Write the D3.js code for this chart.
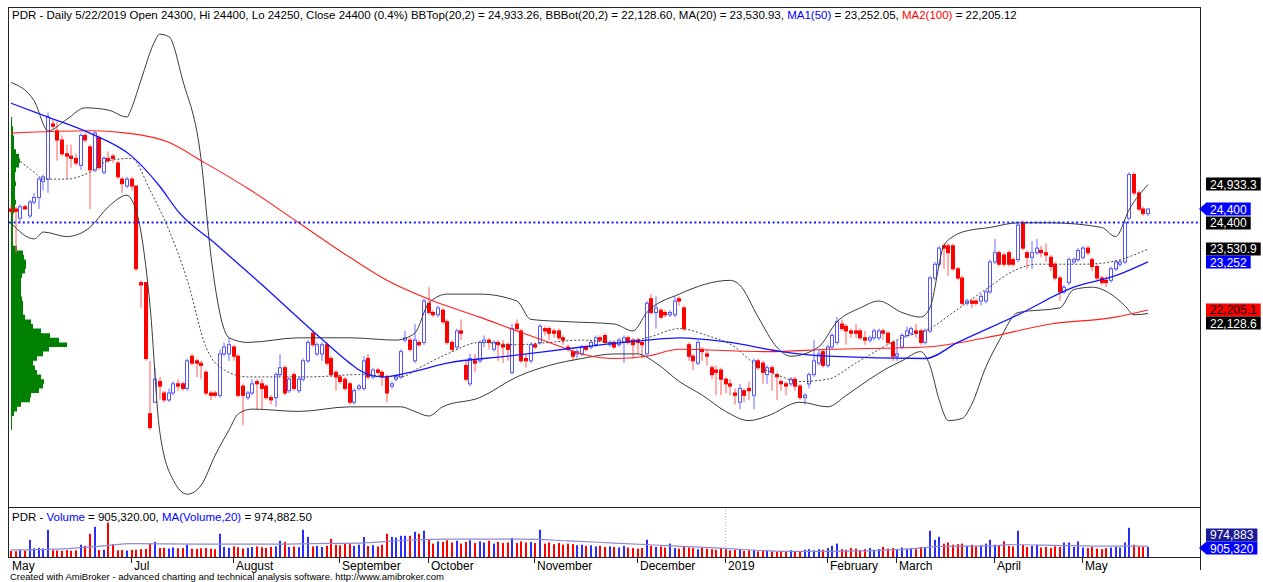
<!DOCTYPE html>
<html>
<head>
<meta charset="utf-8">
<script src="https://cdn.jsdelivr.net/npm/d3@7"></script>
<style>
  body { margin: 0; background: #fff; }
  svg text { font-family: "Liberation Sans", Arial, sans-serif; }
</style>
</head>
<body>
<script>
//DATA (PDR daily, late May 2018 - 22 May 2019)
const opens = [
  24400, 24400, 24200, 24450, 24250, 24550, 24650, 25000, 25050, 26250,
  26100, 25900, 25600, 25550, 25500, 25350, 26000, 25750, 25250, 25950,
  25200, 25500, 25550, 25400, 25050, 24900, 25050, 24900, 22800, 22800,
  19950, 20200, 20650, 20400, 20250, 20400, 20600, 20600, 20500, 21200,
  21100, 21050, 20850, 20400, 20400, 20350, 21250, 21250, 21400, 21200,
  20550, 20300, 20400, 20650, 20600, 20550, 20300, 20300, 20800, 20950,
  20450, 20800, 20450, 20700, 21100, 21700, 21250, 21250, 21450, 21150,
  20850, 20750, 20700, 20600, 20200, 20500, 20500, 21150, 20750, 20900,
  20850, 20750, 20550, 20700, 20750, 21550, 21550, 21100, 21500, 21500,
  22350, 22150, 22100, 22200, 21950, 21500, 21400, 21750, 21000, 20600,
  21100, 21100, 21500, 21550, 21350, 21500, 21450, 21450, 20850, 21900,
  21750, 21150, 21100, 21450, 21500, 21800, 21800, 21750, 21750, 21600,
  21400, 21300, 21250, 21250, 21400, 21400, 21450, 21600, 21650, 21450,
  21500, 21450, 21500, 21600, 21550, 21550, 21500, 21250, 22450, 22150,
  22200, 22150, 22100, 22100, 22450, 22250, 21450, 21200, 21050, 21350,
  21250, 20950, 20900, 20900, 20700, 20600, 20400, 20200, 20450, 20500,
  20350, 21100, 21050, 20800, 20950, 20800, 20650, 20600, 20600, 20700,
  20550, 20300, 20600, 20800, 21050, 21300, 21000, 21400, 21500, 21900,
  21850, 21750, 21750, 21750, 21600, 21550, 21600, 21600, 21750, 21700,
  21500, 21200, 21400, 21650, 21700, 21750, 21750, 21500, 21750, 22900,
  23200, 23600, 23600, 23600, 23100, 22900, 22350, 22400, 22400, 22400,
  22400, 22600, 23250, 23450, 23400, 23450, 23300, 23300, 24100, 23450,
  23350, 23450, 23500, 23450, 23350, 23200, 22900, 22600, 22800, 23250,
  23300, 23350, 23550, 23300, 23150, 22900, 22850, 22850, 23100, 23200,
  23250, 24200, 25150, 24750, 24400, 24300
];
const highs = [
  24500, 24450, 24500, 24500, 24600, 24750, 25100, 25150, 26500, 26350,
  26300, 26000, 25800, 25800, 25600, 26050, 26050, 25800, 26100, 26000,
  25550, 25650, 25600, 25450, 25100, 25100, 25100, 24900, 22850, 22800,
  21100, 20950, 20750, 20450, 20500, 20650, 20700, 20650, 21150, 21250,
  21150, 21100, 20900, 20450, 20450, 21350, 21500, 21600, 21450, 21250,
  20600, 20450, 20700, 20700, 20700, 20600, 20350, 20850, 21250, 21000,
  20750, 20850, 20750, 21150, 21550, 21750, 21500, 21500, 21500, 21200,
  20900, 20800, 20750, 20650, 20500, 20600, 21200, 21250, 20950, 20950,
  20900, 20800, 20650, 20800, 21350, 21750, 21600, 21900, 21550, 22450,
  22700, 22200, 22300, 22250, 22000, 21550, 21800, 22000, 21100, 21250,
  21250, 21550, 21650, 21600, 21550, 21550, 21550, 21500, 21900, 22000,
  21800, 21250, 21500, 21500, 21900, 21850, 21850, 21800, 21800, 21650,
  21450, 21350, 21350, 21450, 21450, 21550, 21650, 21650, 21700, 21550,
  21550, 21600, 21650, 21650, 21600, 21600, 21550, 22400, 22550, 22500,
  22250, 22200, 22200, 22500, 22500, 22300, 21500, 21250, 21550, 21400,
  21350, 21000, 21000, 20950, 20750, 20700, 20500, 20600, 20500, 20650,
  21150, 21150, 21100, 21000, 21000, 20850, 20700, 20650, 20750, 20750,
  20600, 20400, 20850, 21550, 21350, 21350, 21450, 21700, 22050, 22000,
  21900, 21800, 21900, 21800, 21750, 21650, 21800, 21800, 21800, 21750,
  21550, 21550, 21700, 21850, 21850, 21900, 21800, 21800, 22950, 23250,
  23600, 23650, 23650, 23650, 23150, 22950, 22450, 22450, 22450, 22550,
  22650, 23300, 23750, 23500, 23450, 23500, 23350, 24100, 24150, 23500,
  23700, 23750, 23600, 23650, 23400, 23250, 22950, 22750, 23350, 23350,
  23550, 23600, 23600, 23350, 23200, 22950, 22950, 23150, 23300, 23300,
  24150, 25200, 25200, 24800, 24450, 24400
];
const lows = [
  24300, 23450, 24100, 24400, 24200, 24500, 24400, 24800, 24750, 26150,
  25450, 25550, 25050, 25300, 25350, 25250, 25850, 24400, 25200, 25250,
  25150, 25400, 25400, 25050, 24750, 24850, 24800, 23050, 22250, 21100,
  19600, 20200, 20250, 20200, 20200, 20350, 20450, 20450, 20450, 21000,
  20750, 20700, 20350, 20250, 20300, 20300, 21200, 21100, 21100, 20300,
  19700, 20250, 20350, 20050, 20050, 20250, 20150, 20100, 20750, 20350,
  20400, 20450, 20400, 20650, 21050, 21400, 21200, 21100, 21000, 20750,
  20450, 20600, 20450, 20150, 20150, 20450, 20450, 20700, 20700, 20800,
  20550, 20200, 20500, 20650, 20700, 21500, 21300, 21050, 21400, 21450,
  22100, 22050, 22050, 21900, 21450, 21300, 21350, 21550, 20650, 20550,
  20850, 21050, 21400, 21350, 21300, 21100, 21050, 21100, 20800, 21750,
  21050, 20950, 21050, 21350, 21450, 21650, 21550, 21600, 21550, 21450,
  21300, 21100, 21150, 21200, 21300, 21350, 21400, 21500, 21450, 21400,
  21350, 21400, 21050, 21450, 21150, 21250, 21150, 21200, 22100, 21800,
  22000, 22050, 22050, 22050, 22300, 21750, 21100, 20900, 21000, 21100,
  21000, 20700, 20350, 20350, 20400, 20350, 20150, 20050, 20200, 20250,
  20050, 20900, 20600, 20600, 20450, 20250, 20450, 20350, 20550, 20450,
  20250, 20150, 20500, 20750, 21000, 20950, 20950, 21350, 21450, 21750,
  21450, 21600, 21600, 21550, 21450, 21500, 21550, 21550, 21550, 21450,
  21100, 21100, 21350, 21600, 21650, 21600, 21450, 21450, 21700, 22850,
  23150, 23100, 22950, 23050, 22850, 22300, 22300, 22250, 22300, 22300,
  22350, 22550, 23200, 23150, 23150, 23150, 23150, 23250, 23500, 23100,
  23100, 23400, 23350, 23250, 23050, 22850, 22400, 22550, 22750, 23200,
  23250, 23300, 23400, 23050, 22850, 22750, 22700, 22800, 23050, 23150,
  23200, 24150, 24700, 24350, 24250, 24250
];
const closes = [
  24350, 24350, 24450, 24400, 24550, 24650, 25050, 25100, 26400, 26200,
  25900, 25600, 25550, 25500, 25400, 26000, 25900, 25250, 26050, 25300,
  25500, 25450, 25500, 25100, 24950, 25050, 24900, 23100, 22750, 21150,
  19650, 20700, 20550, 20250, 20400, 20600, 20550, 20500, 21100, 21050,
  21050, 21000, 20400, 20350, 20350, 21250, 21400, 21450, 21200, 20350,
  20350, 20400, 20600, 20600, 20500, 20300, 20250, 20800, 20950, 20400,
  20700, 20500, 20700, 21100, 21500, 21450, 21450, 21450, 21050, 20800,
  20750, 20650, 20500, 20200, 20450, 20550, 21100, 20750, 20900, 20850,
  20750, 20400, 20600, 20750, 21300, 21600, 21350, 21550, 21450, 22400,
  22150, 22100, 22250, 21950, 21500, 21350, 21750, 21700, 20700, 21150,
  21050, 21500, 21550, 21500, 21500, 21450, 21400, 21350, 21800, 21800,
  21100, 21100, 21450, 21400, 21850, 21750, 21700, 21700, 21600, 21550,
  21350, 21200, 21300, 21400, 21350, 21500, 21600, 21550, 21500, 21500,
  21400, 21550, 21600, 21500, 21450, 21500, 21450, 22350, 22150, 22250,
  22050, 22100, 22150, 22400, 22400, 21800, 21200, 21100, 21500, 21300,
  21200, 20800, 20850, 20700, 20600, 20550, 20350, 20500, 20350, 20450,
  21100, 20950, 20850, 20950, 20850, 20750, 20600, 20550, 20700, 20550,
  20300, 20350, 20800, 21100, 21250, 21000, 21400, 21650, 21950, 21800,
  21750, 21700, 21700, 21600, 21550, 21600, 21750, 21750, 21700, 21500,
  21200, 21250, 21650, 21750, 21800, 21700, 21500, 21750, 22900, 23200,
  23550, 23550, 23450, 23100, 22900, 22350, 22400, 22350, 22350, 22500,
  22600, 23250, 23450, 23200, 23200, 23200, 23200, 24050, 23550, 23350,
  23450, 23550, 23450, 23400, 23150, 22900, 22600, 22700, 23300, 23300,
  23500, 23550, 23450, 23150, 22900, 22800, 22800, 23100, 23250, 23250,
  24100, 25150, 24750, 24400, 24300, 24400
];
//volume in thousands of shares
const volumesK = [
  550, 520, 600, 560, 1540, 780, 820, 760, 2440, 600,
  580, 550, 620, 560, 600, 1100, 1000, 2080, 2700, 620,
  650, 3080, 1150, 600, 620, 580, 640, 650, 700, 720,
  1180, 1360, 800, 820, 760, 850, 780, 800, 1100, 750,
  720, 780, 800, 750, 700, 2080, 900, 820, 950, 880,
  760, 820, 900, 950, 880, 820, 900, 950, 1450, 1350,
  900, 950, 880, 2440, 1800, 950, 1000, 900, 1000, 1630,
  1100, 1050, 1200, 1150, 1000, 1100, 1800, 1000, 1050, 950,
  1100, 2080, 1800, 1750, 1900, 1900, 1900, 2260, 2080, 2350,
  1600, 1200, 1400, 1350, 1500, 1300, 1450, 1200, 1350, 1500,
  1250, 1400, 1300, 1450, 1200, 1350, 1250, 1300, 1700, 1250,
  1400, 1300, 1350, 1250, 2440, 1200, 1300, 1150, 1250, 1100,
  1200, 1150, 1050, 1100, 1000, 1050, 950, 1000, 900, 950,
  900, 850, 1000, 850, 800, 750, 800, 1550, 1000, 900,
  950, 850, 1200, 800, 750, 900, 850, 800, 700, 850,
  750, 700, 650, 800, 700, 600, 650, 700, 550, 600,
  650, 500, 550, 600, 500, 450, 550, 500, 600, 450,
  500, 650, 700, 600, 700, 650, 800, 1000, 1200, 700,
  650, 800, 750, 600, 700, 800, 650, 700, 900, 750,
  800, 700, 850, 750, 800, 700, 900, 900, 2350, 1540,
  1800, 1200, 1300, 1100, 1150, 1200, 1000, 1100, 950, 1050,
  1200, 1540, 1100, 1050, 1400, 1000, 950, 2350, 1100, 900,
  1000, 1100, 850, 900, 800, 950, 900, 1300, 1300, 900,
  1400, 850, 800, 900, 750, 700, 800, 850, 900, 850,
  1300, 2620, 1100, 900, 900, 905.32
];

//indicator lines as [bar, value]
const ma20Pts = [[0,25600],[5,25200],[7,25050],[12,25050],[17,25200],[21,25450],[26,25500],[30,24800],[34,23950],[38,22850],[42,21400],[46,20900],[51,20750],[64,20750],[75,20800],[84,20750],[88,20950],[94,21250],[101,21500],[109,21450],[116,21500],[123,21550],[130,21500],[137,21600],[144,21800],[150,21650],[156,21400],[160,21050],[165,20800],[170,20650],[176,20700],[182,21050],[192,21600],[198,21800],[203,22150],[210,22650],[217,23100],[221,23200],[231,23200],[237,23250],[245,23531]];
const ma50Pts = [[0,26700],[8,26400],[17,26050],[26,25550],[32,24900],[36,24350],[44,23650],[53,22850],[65,21750],[73,21050],[75,20900],[80,20750],[86,20850],[94,21050],[107,21200],[123,21400],[137,21550],[144,21600],[155,21500],[166,21300],[176,21200],[197,21150],[204,21500],[217,22100],[229,22700],[238,22950],[245,23252]];
const ma100Pts = [[0,26050],[17,26100],[25,26050],[34,25850],[41,25450],[51,24850],[62,24100],[73,23350],[81,22850],[91,22400],[101,22050],[109,21750],[116,21500],[123,21250],[130,21150],[137,21200],[144,21350],[163,21300],[176,21350],[197,21400],[210,21600],[224,21900],[238,22050],[245,22205]];
const bbTopPts = [[0,27150],[5,26750],[8,26100],[12,26350],[16,26600],[21,26550],[25,26400],[26,26600],[28,27200],[31,28050],[32,28200],[34,28150],[37,27200],[41,25450],[43,23450],[47,21600],[51,21500],[62,21600],[73,21600],[83,21550],[87,21700],[90,22350],[94,22550],[101,22550],[109,22400],[112,22000],[120,21950],[130,21900],[134,21750],[137,22150],[144,22550],[155,22850],[157,22750],[161,22050],[165,21400],[168,21200],[174,21400],[178,21950],[183,22250],[187,22400],[192,22150],[196,22050],[198,22250],[201,23600],[203,23800],[205,23900],[211,24000],[217,24100],[224,24100],[235,24000],[238,23800],[241,24400],[245,24933]];
const bbBotPts = [[0,24100],[5,23750],[7,23900],[12,23800],[17,24000],[21,24450],[25,24700],[26,24600],[28,23900],[30,22250],[32,19600],[35,18500],[38,18200],[41,18400],[44,19050],[47,19600],[49,19950],[52,20050],[62,20000],[73,20100],[84,20100],[87,20000],[90,19900],[93,20100],[101,20300],[109,20750],[116,21000],[123,21150],[130,21250],[135,21250],[139,21050],[144,20650],[149,20350],[154,20000],[159,19800],[163,19900],[170,20200],[176,20100],[180,20350],[185,20700],[189,20950],[192,21100],[196,21300],[198,21000],[200,20250],[202,19800],[205,19850],[207,20150],[210,20950],[213,21550],[217,22150],[226,22250],[229,22650],[233,22700],[237,22550],[240,22300],[242,22100],[245,22129]];
const volMaPts = [[0,630],[10,700],[20,1000],[26,1200],[40,1150],[55,1150],[65,1200],[75,1250],[85,1500],[95,1600],[110,1600],[120,1450],[130,1250],[140,1050],[153,790],[167,500],[176,500],[193,700],[200,950],[211,1000],[215,1100],[225,1050],[235,980],[245,975]];

//horizontal dotted level
const levelLine = 24120;

//volume-at-price profile on the left (bin start price, relative volume)
const profileLevels = [
  19700, 19800, 19900, 20000, 20100, 20200, 20300, 20400, 20500, 20600,
  20700, 20800, 20900, 21000, 21100, 21200, 21300, 21400, 21500, 21600,
  21700, 21800, 21900, 22000, 22100, 22200, 22300, 22400, 22500, 22600,
  22700, 22800, 22900, 23000, 23100, 23200, 23300, 23400, 23500, 23600,
  23700, 23800, 23900, 24000, 24100, 24200, 24300, 24400, 24500, 24600,
  24700, 24800, 24900, 25000, 25100, 25200, 25300, 25400, 25500, 25600,
  25700, 25800, 25900, 26000, 26100, 26200, 26300
];
const profileVols = [
  1, 1, 1, 3, 6, 10, 19, 20, 28, 32,
  33, 30, 26, 24, 22, 26, 32, 38, 56, 48,
  39, 30, 22, 20, 14, 12, 12, 12, 11, 10,
  10, 10, 10, 11, 14, 15, 15, 13, 12, 6,
  2, 2, 2, 2, 2, 2, 2, 3, 4, 5,
  4, 4, 4, 5, 4, 4, 5, 8, 9, 8,
  5, 3, 3, 3, 2, 2, 1
];

//x axis
const monthLabels = ["May", "Jul", "August", "September", "October", "November", "December", "2019", "February", "March", "April", "May"];
const monthBars = [0, 26, 48, 71, 90, 113, 135, 154, 176, 191, 212, 231];

//right side value tags
const priceTagTexts = ["24,933.3", "24,400", "24,400", "23,530.9", "23,252", "22,205.1", "22,128.6"];
const volTagTexts = ["974,883", "905,320"];

//SETUP
const upColor = "#2b2bff";
const downColor = "#ff0000";

let svg = d3.select("body").append("svg")
    .attr("width", 1263)
    .attr("height", 582);

let x = d3.scaleLinear().domain([0, closes.length - 1]).range([11, 1148]);
let y = d3.scaleLinear().domain([17922, 28770]).range([507, 8]);
let yv = d3.scaleLinear().domain([0, 4300]).range([557, 509]);
let profW = d3.scaleLinear().domain([0, 56]).range([0, 56]);

svg.append("defs").append("clipPath").attr("id", "pclip")
    .append("rect").attr("x", 9).attr("y", 8).attr("width", 1191).attr("height", 499);

let price = svg.append("g").attr("clip-path", "url(#pclip)");

//volume profile, drawn as one stepped area so the bins join up
let profArea = d3.area()
    .y(d => y(d[0]))
    .x0(11)
    .x1(d => 11 + profW(d[1]))
    .curve(d3.curveStepAfter);
let profData = [];
profileLevels.forEach(function (p, k) {
    profData.push([p, profileVols[k]]);
});
profData.push([profileLevels[profileLevels.length - 1] + 100, 0]);
price.append("path")
    .attr("d", profArea(profData))
    .attr("fill", "#008000");
//thin green stem at the left of the profile
price.append("line")
    .attr("x1", 11.5).attr("x2", 11.5)
    .attr("y1", y(26400)).attr("y2", y(19600))
    .attr("stroke", "#008000").attr("stroke-width", 1);

//candles
let bars = price.append("g").selectAll("g")
    .data(closes)
    .enter().append("g");

bars.append("line")
    .attr("x1", (d, i) => Math.round(x(i)))
    .attr("x2", (d, i) => Math.round(x(i)))
    .attr("y1", (d, i) => y(Math.max(highs[i], opens[i], d)))
    .attr("y2", (d, i) => y(Math.min(lows[i], opens[i], d)))
    .attr("stroke", (d, i) => d >= opens[i] ? "#6a6aff" : "#ff5a5a")
    .attr("stroke-width", 1);

bars.append("rect")
    .attr("x", (d, i) => Math.round(x(i)) - 1.5)
    .attr("width", 3)
    .attr("y", (d, i) => y(Math.max(opens[i], d)))
    .attr("height", (d, i) => Math.max(1, Math.abs(y(opens[i]) - y(d))))
    .attr("fill", (d, i) => d >= opens[i] ? "#fff" : downColor)
    .attr("stroke", (d, i) => d >= opens[i] ? "#5555ff" : downColor)
    .attr("stroke-width", 1);

//indicator lines
let line = d3.line()
    .x(d => x(d[0]))
    .y(d => y(d[1]))
    .curve(d3.curveMonotoneX);

price.append("path").attr("d", line(bbTopPts))
    .attr("fill", "none").attr("stroke", "#3a3a3a").attr("stroke-width", 1);
price.append("path").attr("d", line(bbBotPts))
    .attr("fill", "none").attr("stroke", "#3a3a3a").attr("stroke-width", 1);
price.append("path").attr("d", line(ma20Pts))
    .attr("fill", "none").attr("stroke", "#444").attr("stroke-width", 1)
    .attr("stroke-dasharray", "2,2");
price.append("path").attr("d", line(ma100Pts))
    .attr("fill", "none").attr("stroke", "#ff2020").attr("stroke-width", 1.1);
price.append("path").attr("d", line(ma50Pts))
    .attr("fill", "none").attr("stroke", "#1515ff").attr("stroke-width", 1.3);

//dotted horizontal level
price.append("line")
    .attr("x1", 9).attr("x2", 1200)
    .attr("y1", Math.round(y(levelLine)) + 0.5).attr("y2", Math.round(y(levelLine)) + 0.5)
    .attr("stroke", "#1a1aff").attr("stroke-width", 2.2)
    .attr("stroke-dasharray", "2,2.6");

//VOLUME PANEL
let vol = svg.append("g");
vol.append("line")
    .attr("x1", x(154)).attr("x2", x(154))
    .attr("y1", 510).attr("y2", 557)
    .attr("stroke", "#aaa").attr("stroke-dasharray", "1,2");

vol.selectAll("rect.v")
    .data(volumesK)
    .enter().append("rect")
    .attr("class", "v")
    .attr("x", (d, i) => Math.round(x(i)) - 1)
    .attr("width", 2)
    .attr("y", d => yv(d))
    .attr("height", d => 557 - yv(d))
    .attr("fill", (d, i) => closes[i] >= opens[i] ? upColor : downColor);

let vline = d3.line()
    .x(d => x(d[0]))
    .y(d => yv(d[1]))
    .curve(d3.curveMonotoneX);
vol.append("path").attr("d", vline(volMaPts))
    .attr("fill", "none").attr("stroke", "#8c8cd0").attr("stroke-width", 1.2);

//FRAME
let frame = svg.append("g").attr("stroke", "#222").attr("stroke-width", 1).attr("shape-rendering", "crispEdges");
frame.append("line").attr("x1", 8).attr("x2", 1200).attr("y1", 7).attr("y2", 7);
frame.append("line").attr("x1", 8).attr("x2", 8).attr("y1", 7).attr("y2", 557);
frame.append("line").attr("x1", 1200).attr("x2", 1200).attr("y1", 7).attr("y2", 570);
frame.append("line").attr("x1", 8).attr("x2", 1200).attr("y1", 507).attr("y2", 507);
frame.append("line").attr("x1", 8).attr("x2", 1200).attr("y1", 557).attr("y2", 557);

//month ticks and labels
monthBars.forEach(function (b, k) {
    let tx = Math.round(x(b)) - 1;
    if (k > 0) {
        svg.append("line")
            .attr("x1", tx + 0.5).attr("x2", tx + 0.5)
            .attr("y1", 557).attr("y2", 563)
            .attr("stroke", "#222");
    }
    svg.append("text")
        .attr("x", k > 0 ? tx + 3 : 12)
        .attr("y", 570)
        .attr("font-size", "12px")
        .attr("fill", "#000")
        .text(monthLabels[k]);
});

//TITLES
let title = svg.append("text").attr("x", 12).attr("y", 19).attr("font-size", "11.5px").attr("fill", "#000");
title.append("tspan").text("PDR - Daily 5/22/2019 Open 24300, Hi 24400, Lo 24250, Close 24400 (0.4%) BBTop(20,2) = 24,933.26, BBBot(20,2) = 22,128.60, MA(20) = 23,530.93, ");
title.append("tspan").attr("fill", "#0000ff").text("MA1(50)");
title.append("tspan").text(" = 23,252.05, ");
title.append("tspan").attr("fill", "#ff0000").text("MA2(100)");
title.append("tspan").text(" = 22,205.12");

let vtitle = svg.append("text").attr("x", 12).attr("y", 521).attr("font-size", "11.5px").attr("fill", "#000");
vtitle.append("tspan").text("PDR - ");
vtitle.append("tspan").attr("fill", "#0000ff").text("Volume");
vtitle.append("tspan").text(" = 905,320.00, ");
vtitle.append("tspan").attr("fill", "#0000ff").text("MA(Volume,20)");
vtitle.append("tspan").text(" = 974,882.50");

svg.append("text").attr("x", 10).attr("y", 580).attr("font-size", "9.5px").attr("fill", "#000")
    .text("Created with AmiBroker - advanced charting and technical analysis software. http://www.amibroker.com");

//RIGHT TAGS
let last = closes.length - 1;
let priceTags = [
    { v: bbTopPts[bbTopPts.length - 1][1], bg: "#000", fg: "#fff" },
    { v: closes[last], bg: "#0000ff", fg: "#fff", arrow: true },
    { v: highs[last], bg: "#000", fg: "#fff" },
    { v: ma20Pts[ma20Pts.length - 1][1], bg: "#000", fg: "#fff" },
    { v: ma50Pts[ma50Pts.length - 1][1], bg: "#0000ff", fg: "#fff" },
    { v: ma100Pts[ma100Pts.length - 1][1], bg: "#ff0000", fg: "#000" },
    { v: bbBotPts[bbBotPts.length - 1][1], bg: "#000", fg: "#fff" }
];
priceTags.forEach((t, k) => { t.text = priceTagTexts[k]; t.y0 = y(t.v); });
let volTags = [
    { v: volMaPts[volMaPts.length - 1][1], bg: "#1a1a96", fg: "#fff", text: volTagTexts[0] },
    { v: volumesK[last], bg: "#0000ff", fg: "#fff", arrow: true, text: volTagTexts[1] }
];
volTags.forEach(t => { t.y0 = yv(t.v); });

//pushes overlapping tags apart, like AmiBroker does
function placeTags(tags, bottom, gap) {
    let prev = -Infinity;
    tags.forEach(function (t) { t.y = Math.max(t.y0, prev + gap); prev = t.y; });
    let limit = bottom;
    for (let k = tags.length - 1; k >= 0; k--) {
        tags[k].y = Math.min(tags[k].y, limit);
        limit = tags[k].y - gap;
    }
}
placeTags(priceTags, 500, 13.5);
placeTags(volTags, 548, 13.5);

function drawTags(tags) {
    tags.forEach(function (t) {
        let g = svg.append("g");
        let bx = 1206;
        let txt = g.append("text")
            .attr("x", bx + 4)
            .attr("y", t.y + 4.5)
            .attr("font-size", "12px")
            .attr("fill", t.fg)
            .text(t.text);
        let w = txt.node().getComputedTextLength() + 8;
        g.insert("rect", "text")
            .attr("x", bx).attr("y", Math.round(t.y) - 6.5)
            .attr("width", w).attr("height", 13)
            .attr("fill", t.bg);
        if (t.arrow) {
            g.insert("path", "text")
                .attr("d", "M" + 1199 + "," + t.y + "L" + (bx + 0.5) + "," + (t.y - 6.5) + "L" + (bx + 0.5) + "," + (t.y + 6.5) + "Z")
                .attr("fill", t.bg);
        }
    });
}
drawTags(priceTags);
drawTags(volTags);
</script>
</body>
</html>
